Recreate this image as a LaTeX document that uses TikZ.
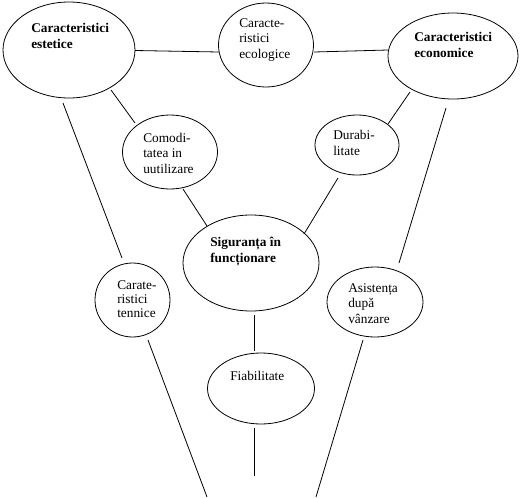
\documentclass[tikz,border=0pt]{standalone}
\usepackage{fontspec}
\setmainfont{Liberation Serif}
\usetikzlibrary{shapes.geometric}
\begin{document}
\begin{tikzpicture}[x=0.75pt,y=-0.75pt,
  oval/.style={draw,ellipse,inner sep=0pt,line width=0.6pt},
  lbl/.style={anchor=base west,inner sep=0pt,align=left,font=\fontsize{10pt}{11.3pt}\selectfont},
  blbl/.style={lbl,font=\fontsize{10pt}{11.3pt}\selectfont\bfseries},
  conn/.style={line width=0.6pt}]
\fill[white] (0,0) rectangle (522,497);
\useasboundingbox (0,0) rectangle (522,497);
% ellipses
\node[oval,minimum width=99pt,minimum height=72pt] (A) at (69,50) {};
\node[oval,minimum width=71.25pt,minimum height=63pt] (B) at (266,45) {};
\node[oval,minimum width=97.5pt,minimum height=64.5pt] (C) at (453,56) {};
\node[oval,minimum width=71.25pt,minimum height=55.5pt] (D) at (170,152) {};
\node[oval,minimum width=63pt,minimum height=45pt] (E) at (357,145) {};
\node[oval,minimum width=102pt,minimum height=72pt] (F) at (251,263) {};
\node[oval,minimum width=56.25pt,minimum height=55.5pt] (G) at (132.5,300) {};
\node[oval,minimum width=72pt,minimum height=52.5pt] (H) at (375,302) {};
\node[oval,minimum width=80.25pt,minimum height=53.25pt] (I) at (261,388.5) {};
% texts (anchored at the baseline of their last line)
\node[blbl] (tA) at (31,48) {Caracteristici\\estetice};
\node[lbl] (tB) at (239,58) {Caracte-\\ristici\\ecologice};
\node[blbl] (tC) at (414,57) {Caracteristici\\economice};
\node[lbl] (tD) at (143,173) {Comodi-\\tatea in\\uutilizare};
\node[lbl] (tE) at (333,155) {Durabi-\\litate};
\node[blbl] (tF) at (210,262) {Siguranța în\\funcționare};
\node[lbl,font=\fontsize{10pt}{10.2pt}\selectfont] (tG) at (117,317) {Carate-\\ristici\\tennice};
\node[lbl] (tH) at (348,323) {Asistența\\după\\vânzare};
\node[lbl] (tI) at (230,380) {Fiabilitate};
% connector end points
\coordinate (ab1) at (135,50.5); \coordinate (ab2) at (219,52);
\coordinate (bc1) at (314,52); \coordinate (bc2) at (388,50);
\coordinate (ad1) at (111,90); \coordinate (ad2) at (135,123);
\coordinate (ce1) at (410,92); \coordinate (ce2) at (388,124);
\coordinate (df1) at (183,189); \coordinate (df2) at (207,226);
\coordinate (ef1) at (338,178); \coordinate (ef2) at (304,234);
\coordinate (ag1) at (63,103); \coordinate (ag2) at (122,258);
\coordinate (ch1) at (446,108); \coordinate (ch2) at (399,263);
\coordinate (fi1) at (254,315); \coordinate (fi2) at (254,351);
\coordinate (gb1) at (148,340); \coordinate (gb2) at (207,497);
\coordinate (hb1) at (363,340); \coordinate (hb2) at (316,497);
\coordinate (ib1) at (254,428); \coordinate (ib2) at (254,476);
\draw[conn] (ab1) -- (ab2);
\draw[conn] (bc1) -- (bc2);
\draw[conn] (ad1) -- (ad2);
\draw[conn] (ce1) -- (ce2);
\draw[conn] (df1) -- (df2);
\draw[conn] (ef1) -- (ef2);
\draw[conn] (ag1) -- (ag2);
\draw[conn] (ch1) -- (ch2);
\draw[conn] (fi1) -- (fi2);
\draw[conn] (gb1) -- (gb2);
\draw[conn] (hb1) -- (hb2);
\draw[conn] (ib1) -- (ib2);
\end{tikzpicture}
\end{document}
